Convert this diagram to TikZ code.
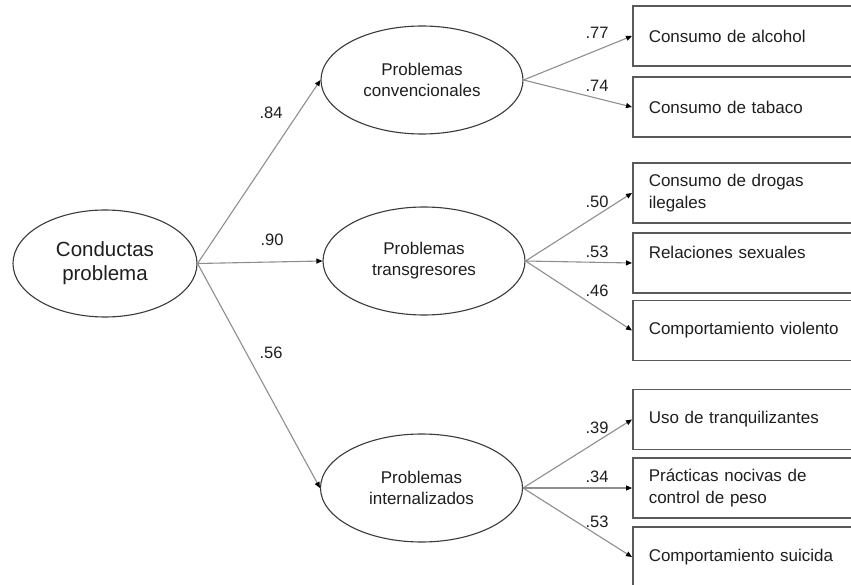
\documentclass[tikz,border=0pt]{standalone}
\usepackage{fontspec}
\setmainfont{Liberation Sans}
\usetikzlibrary{shapes.geometric,arrows.meta}
\definecolor{ink}{HTML}{1E1E1E}
\definecolor{rim}{HTML}{3A3A3A}
\definecolor{frame}{HTML}{5A5A5A}
\definecolor{wire}{HTML}{8E8E8E}
\begin{document}
\begin{tikzpicture}[x=1pt,y=-1pt,
  factor/.style={ellipse,draw=rim,line width=1.1pt,inner sep=0pt,
    minimum width=202pt,minimum height=108pt,align=center,text=ink,
    font=\fontsize{17}{21}\selectfont},
  general/.style={factor,minimum width=184pt,minimum height=107pt,
    font=\fontsize{20.5}{24}\selectfont},
  indicator/.style={draw=frame,line width=1.5pt,anchor=west,
    minimum width=240pt,minimum height=60pt,text width=208pt,
    inner xsep=16pt,inner ysep=0pt,align=left,text=ink,
    font=\fontsize{17}{22}\selectfont},
  load/.style={draw=wire,line width=1.1pt,
    -{Triangle[length=6pt,width=5pt,color=black]}},
  coef/.style={text=ink,font=\fontsize{16.5}{20}\selectfont,inner sep=0pt}
]
\useasboundingbox (0,0) rectangle (851,585);
\clip (0,0) rectangle (851,585);

% latent factors
\node[general] (cp) at (105,263.5) {Conductas\\problema};
\node[factor] (pc) at (422,80) {Problemas\\convencionales};
\node[factor] (pt) at (424,261) {Problemas\\transgresores};
\node[factor] (pi) at (421.5,488) {Problemas\\internalizados};

% observed indicators
\node[indicator] (b1) at (632,36) {Consumo de alcohol};
\node[indicator] (b2) at (632,107) {Consumo de tabaco};
\node[indicator] (b3) at (632,193) {Consumo de drogas\\ilegales};
\node[indicator] (b4) at (632,263) {Relaciones sexuales\\\mbox{}};
\node[indicator] (b5) at (632,330.5) {Comportamiento violento};
\node[indicator] (b6) at (632,419.5) {Uso de tranquilizantes};
\node[indicator] (b7) at (632,488) {Prácticas nocivas de\\control de peso};
\node[indicator] (b8) at (632,557) {Comportamiento suicida};

% second-order loadings
\draw[load] (cp.east) -- (pc.west);
\draw[load] (cp.east) -- (pt.west);
\draw[load] (cp.east) -- (pi.west);
\node[coef] (l84) at (271,113) {.84};
\node[coef] (l90) at (272,240) {.90};
\node[coef] (l56) at (271,353) {.56};

% first-order loadings
\draw[load] (pc.east) -- (b1.west);
\draw[load] (pc.east) -- (b2.west);
\draw[load] (pt.east) -- (b3.west);
\draw[load] (pt.east) -- (b4.west);
\draw[load] (pt.east) -- (b5.west);
\draw[load] (pi.east) -- (b6.west);
\draw[load] (pi.east) -- (b7.west);
\draw[load] (pi.east) -- (b8.west);
\node[coef] (l77) at (597,33) {.77};
\node[coef] (l74) at (597,86) {.74};
\node[coef] (l50) at (597,202) {.50};
\node[coef] (l53a) at (597,252) {.53};
\node[coef] (l46) at (597,291) {.46};
\node[coef] (l39) at (597,428) {.39};
\node[coef] (l34) at (597,477) {.34};
\node[coef] (l53b) at (597,522) {.53};
\end{tikzpicture}
\end{document}
